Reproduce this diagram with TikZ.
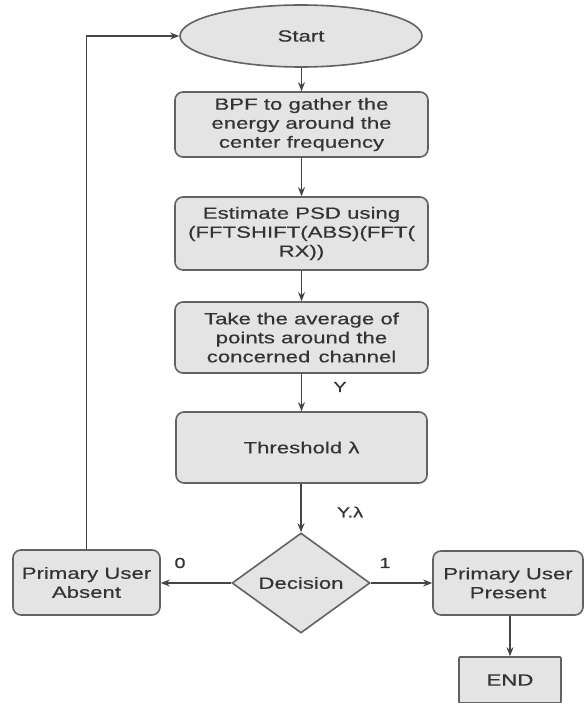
\documentclass[tikz,border=0pt]{standalone}
\usepackage{fontspec}
\setmainfont{Liberation Sans}
\newfontfamily\wide[FakeStretch=1.37,FakeBold=0.4]{Liberation Sans}
\usetikzlibrary{shapes.geometric,arrows.meta}
\definecolor{boxfill}{HTML}{E4E4E4}
\definecolor{boxline}{HTML}{626262}
\definecolor{txt}{HTML}{333333}
\definecolor{arr}{HTML}{454545}
\tikzset{
  base/.style={draw=boxline, line width=1.6pt, fill=boxfill, text=txt,
    font=\wide\fontsize{16.2}{19}\selectfont, align=center, inner sep=0pt},
  procbox/.style={base, rectangle, rounded corners=8pt},
  plainbox/.style={base, rectangle},
  startshape/.style={base, ellipse},
  decshape/.style={base, diamond, aspect=1.38},
  conn/.style={draw=arr, line width=1.6pt, -{Stealth[length=9pt,width=7pt]}},
  lbl/.style={text=txt, font=\wide\fontsize{14.5}{16}\selectfont, inner sep=0pt}
}
\begin{document}
\begin{tikzpicture}[x=1pt,y=-1pt]
\useasboundingbox[fill=white] (0,0) rectangle (584,703);
\node[startshape, minimum width=242pt, minimum height=62pt] (start) at (301,36) {Start};
\node[procbox, minimum width=253pt, minimum height=65pt] (bpf) at (301.5,124.5) {BPF to gather the\\energy around the\\center frequency};
\node[procbox, minimum width=253pt, minimum height=73pt] (psd) at (301.5,233.5) {Estimate PSD using\\(FFTSHIFT(ABS)(FFT(\\RX))};
\node[procbox, minimum width=253pt, minimum height=71pt] (avg) at (301.5,337.5) {Take the average of\\points around the\\concerned\enspace channel};
\node[procbox, minimum width=251pt, minimum height=71pt] (thr) at (301.5,447.5) {Threshold λ};
\node[decshape, minimum width=138pt, minimum height=100pt] (dec) at (301,583) {Decision};
\node[procbox, minimum width=147pt, minimum height=65pt] (absent) at (86.5,582.5) {Primary User\\Absent};
\node[procbox, minimum width=150pt, minimum height=64pt] (present) at (508,583) {Primary User\\Present};
\node[plainbox, rounded corners=1pt, minimum width=102pt, minimum height=46pt] (end) at (510,680) {END};
\node[lbl] (ly) at (340,387) {Y};
\node[lbl] (lyl) at (350,512) {Y.λ};
\node[lbl] (l0) at (180,563) {0};
\node[lbl] (l1) at (385,563) {1};
\coordinate (corner) at (absent.north |- start.west);
\draw[conn] (start.south -| bpf.north) -- (bpf.north);
\draw[conn] (bpf.south) -- (psd.north);
\draw[conn] (psd.south) -- (avg.north);
\draw[conn] (avg.south) -- (thr.north);
\draw[conn] (thr.south -| dec.north) -- (dec.north);
\draw[conn] (dec.west) -- (absent.east |- dec.west);
\draw[conn] (dec.east) -- (present.west |- dec.east);
\draw[conn] (present.south -| end.north) -- (end.north);
\draw[conn] (absent.north) -- (corner) -- (start.west);
\end{tikzpicture}
\end{document}
